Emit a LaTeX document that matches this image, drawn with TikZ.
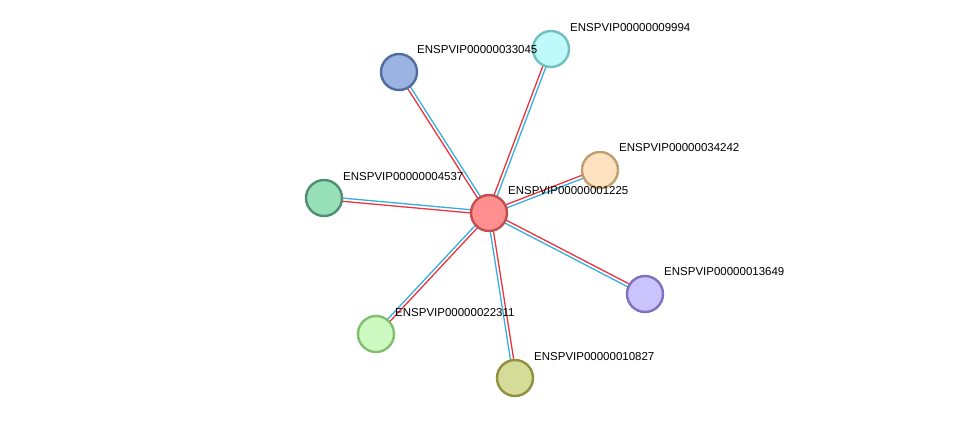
\documentclass[tikz,border=0pt]{standalone}
\usepackage{fontspec}
\setmainfont{Liberation Sans}
\usetikzlibrary{calc}
\definecolor{cred}{HTML}{E8343C}
\definecolor{cblue}{HTML}{38AEE0}
\definecolor{sa}{RGB}{80,108,160}\definecolor{fa}{RGB}{155,179,224}
\definecolor{sb}{RGB}{112,192,192}\definecolor{fb}{RGB}{191,249,249}
\definecolor{sd}{RGB}{192,160,112}\definecolor{fd}{RGB}{255,226,192}
\definecolor{se}{RGB}{80,144,112}\definecolor{fe}{RGB}{152,224,184}
\definecolor{sf}{RGB}{128,112,192}\definecolor{ff}{RGB}{203,195,252}
\definecolor{sg}{RGB}{128,192,112}\definecolor{fg}{RGB}{205,250,192}
\definecolor{sh}{RGB}{144,144,64}\definecolor{fh}{RGB}{212,220,152}
\definecolor{sc}{RGB}{192,80,80}\definecolor{fc}{RGB}{255,143,143}
\begin{document}
\begin{tikzpicture}[x=1pt,y=-1pt,
  prot/.style={circle,minimum size=36pt,inner sep=0pt,line width=2.4pt},
  lab/.style={anchor=west,font=\fontsize{11.5pt}{12pt}\selectfont,inner sep=0pt}]
\useasboundingbox (0,0) rectangle (975,424);
\coordinate (c) at (489,213);
\foreach \n/\x/\y in {a/399/72,b/551/49,d/600/170,e/324/198,f/645/294,g/376/334,h/515/378}{
  \coordinate (\n) at (\x,\y);
  \draw[cred,line width=1.3pt] ($(c)!1.6pt!90:(\n)$) -- ($(\n)!1.6pt!-90:(c)$);
  \draw[cblue,line width=1.3pt] ($(c)!1.6pt!-90:(\n)$) -- ($(\n)!1.6pt!90:(c)$);
}
\foreach \n in {a,b,d,e,f,g,h,c}{
  \node[prot,draw=s\n,fill=f\n] (n\n) at (\n) {};
}
\node[lab] (la) at ($(a)+(18,-22)$) {ENSPVIP00000033045};
\node[lab] (lb) at ($(b)+(19,-21)$) {ENSPVIP00000009994};
\node[lab] (ld) at ($(d)+(19,-22)$) {ENSPVIP00000034242};
\node[lab] (le) at ($(e)+(19,-21)$) {ENSPVIP00000004537};
\node[lab] (lf) at ($(f)+(19,-22)$) {ENSPVIP00000013649};
\node[lab] (lg) at ($(g)+(19,-21)$) {ENSPVIP00000022311};
\node[lab] (lh) at ($(h)+(19,-21)$) {ENSPVIP00000010827};
\node[lab] (lc) at ($(c)+(19,-22)$) {ENSPVIP00000001225};
\end{tikzpicture}
\end{document}
